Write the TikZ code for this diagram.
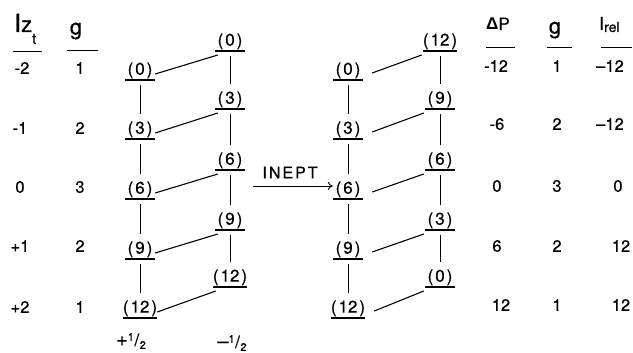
\documentclass[tikz,border=0pt]{standalone}
\usepackage{fontspec}
\setmainfont{TeX Gyre Heros}[FakeBold=0.5]
\newfontfamily\greekfont{Liberation Sans}
\usetikzlibrary{arrows.meta,calc}
\newcommand{\fsz}[1]{\fontsize{#1}{#1}\selectfont}
\newcommand{\lab}[1]{(\kern2pt#1\kern2pt)}
\begin{document}
\begin{tikzpicture}[x=1pt,y=-1pt,
  lvl/.style={anchor=south, inner xsep=0pt, inner ysep=1.5pt, minimum width=30pt, font=\fsz{17}},
  lvlw/.style={lvl, minimum width=34pt},
  bar/.style={line width=2.8pt},
  tie/.style={line width=1.1pt},
  vline/.style={line width=0.8pt},
  num/.style={font=\fsz{16.5}, inner sep=0pt},
  hdr/.style={inner sep=0pt},
  rule/.style={line width=0.9pt},
  arr/.style={-{To[length=5pt,width=8pt]}, line width=0.9pt},
]
\useasboundingbox[fill=white] (0,0) rectangle (633,353);

% ---------- left table ----------
\node[hdr, anchor=base west] (hIz) at (14,32) {\fsz{25}I\fsz{22}z\raisebox{-12pt}{\fsz{15}t}};
\node[hdr, anchor=base] (hg1) at (76,34.5) {\fsz{22}g};
\draw[rule] (13,51) -- (42,51);
\draw[rule] (67,50) -- (98,50);
\foreach \n/\x/\y/\t in {iz1/22/68/-2, iz2/20/128/-1, iz3/20/187/0, iz4/20/246/+1, iz5/20/307/+2,
                        ga1/80/68/1, ga2/80/128/2, ga3/80/187/3, ga4/80/246/2, ga5/80/307/1}
  \node[num] (\n) at (\x,\y) {\t};

% ---------- right table ----------
\node[hdr, anchor=base] (hdP) at (498,30) {\fsz{17}{\greekfont\bfseries Δ}P};
\node[hdr, anchor=base] (hg2) at (555,33.6) {\fsz{22}g};
\node[hdr, anchor=base west] (hIr) at (599,30) {\fsz{18}I\raisebox{-2pt}{\fsz{14}rel}};
\draw[rule] (486,47) -- (515,47);
\draw[rule] (547,47) -- (572,47);
\draw[rule] (601,47) -- (632,47);
\foreach \n/\x/\y/\t in {dp1/496/66/-12, dp2/497/124/-6, dp3/497/186/0, dp4/497/246/6, dp5/501/305/12,
                        gb1/557/66/1, gb2/557/124/2, gb3/557/186/3, gb4/557/246/2, gb5/557/305/1,
                        ir1/610/66/–12, ir2/610/124/–12, ir3/618/186/0, ir4/621/246/12, ir5/621/305/12}
  \node[num] (\n) at (\x,\y) {\t};

% ---------- left energy diagram ----------
\node[lvl]  (A1) at (140,80)  {\lab{0}};
\node[lvl]  (A2) at (140,139) {\lab{3}};
\node[lvl]  (A3) at (140,199) {\lab{6}};
\node[lvl]  (A4) at (140,259) {\lab{9}};
\node[lvlw] (A5) at (140,318) {\lab{12}};
\node[lvl]  (B1) at (230,51)  {\lab{0}};
\node[lvl]  (B2) at (230,109) {\lab{3}};
\node[lvl]  (B3) at (230,170) {\lab{6}};
\node[lvl]  (B4) at (230,230) {\lab{9}};
\node[lvlw] (B5) at (230,287) {\lab{12}};

% ---------- right energy diagram ----------
\node[lvl]  (C1) at (348,80)  {\lab{0}};
\node[lvl]  (C2) at (348,139) {\lab{3}};
\node[lvl]  (C3) at (348,199) {\lab{6}};
\node[lvl]  (C4) at (348,259) {\lab{9}};
\node[lvl, minimum width=32pt] (C5) at (348,318) {\lab{12}};
\node[lvl, minimum width=32pt] (D1) at (440,51)  {\lab{12}};
\node[lvl]  (D2) at (440,109) {\lab{9}};
\node[lvl]  (D3) at (440,170) {\lab{6}};
\node[lvl]  (D4) at (440,230) {\lab{3}};
\node[lvl]  (D5) at (440,287) {\lab{0}};

% bars
\foreach \n in {A1,A2,A3,A4,A5,B1,B2,B3,B4,B5,C1,C2,C3,C4,C5,D1,D2,D3,D4,D5}
  \draw[bar] (\n.south west) -- (\n.south east);

% diagonal ties
\foreach \i in {1,...,5} {
  \draw[tie] ($(A\i.south east)+(0,-6)$) -- ($(B\i.south west)+(3,4)$);
  \draw[tie] ($(C\i.south east)+(9,-7)$) -- ($(D\i.south west)+(-1,4)$);
}
% vertical ties
\foreach \i/\j in {1/2,2/3,3/4,4/5} {
  \foreach \c in {A,B,C,D}
    \draw[vline] ($(\c\i.south)+(0,5)$) -- ($(\c\j.north)+(0,-6)$);
}

% INEPT arrow
\coordinate (arrS) at (253,186);
\draw[arr] (arrS) -- (arrS -| C3.west);
\node[font=\fsz{16}, inner sep=0pt] (inept) at (290,172.5) {I\kern2pt N\kern2pt E\kern2pt P\kern2pt T};

% spin labels
\node[inner sep=0pt] (sup) at (131,341) {\fsz{20}+\raisebox{5pt}{\fsz{11}1}\kern0.5pt{\fsz{17}/}\kern0.5pt\raisebox{-3pt}{\fsz{11}2}};
\node[inner sep=0pt] (sdn) at (232,343) {\fsz{20}–\raisebox{5pt}{\fsz{11}1}\kern0.5pt{\fsz{17}/}\kern0.5pt\raisebox{-3pt}{\fsz{11}2}};
\end{tikzpicture}
\end{document}
